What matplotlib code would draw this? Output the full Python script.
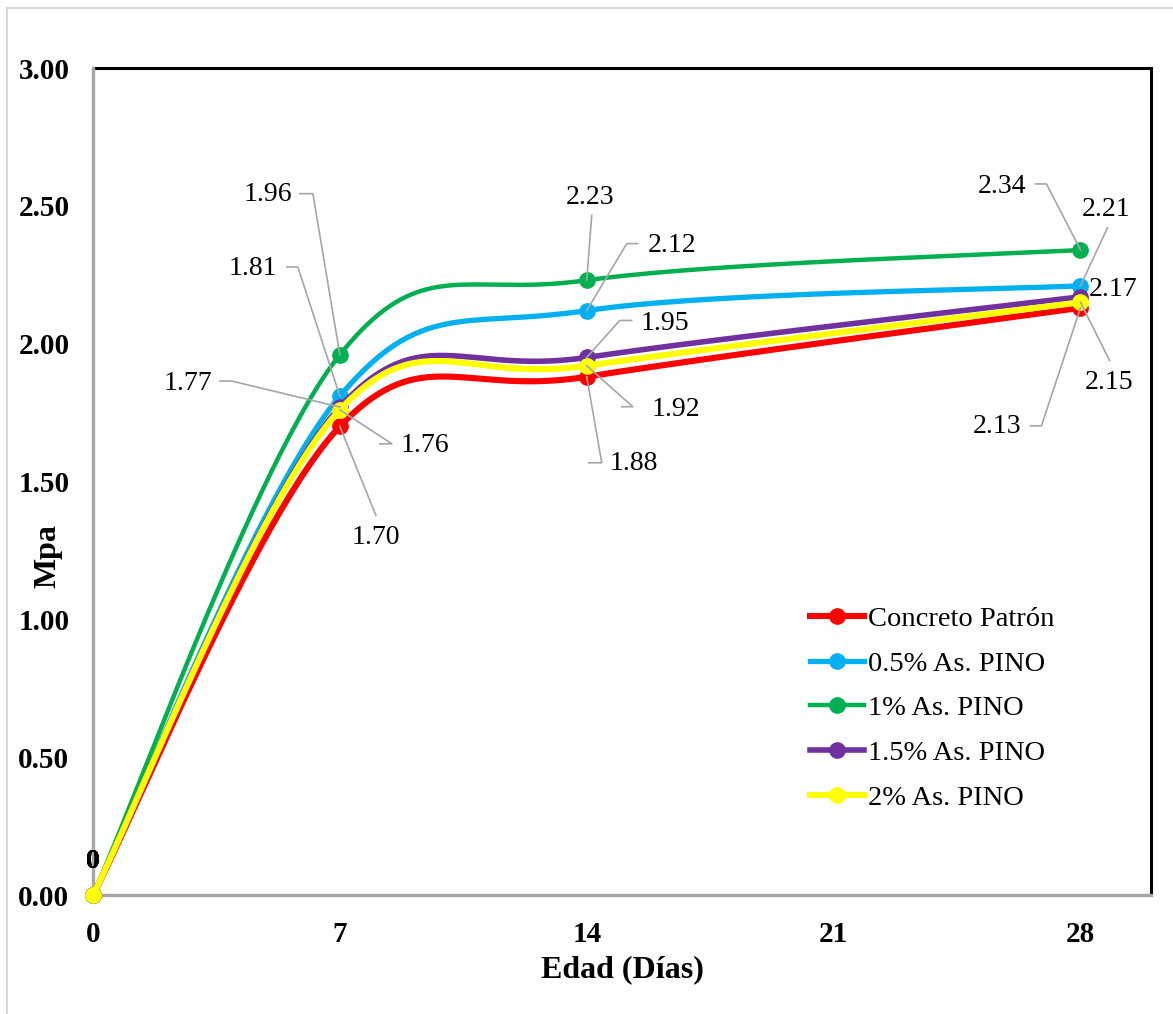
import numpy as np
import matplotlib
matplotlib.use("Agg")
import matplotlib.pyplot as plt
from matplotlib.lines import Line2D
from matplotlib.transforms import IdentityTransform

plt.rcParams['font.family'] = ['Liberation Serif', 'DejaVu Serif']

# edad de ensayo (dias) y resistencia (MPa)
edades = [0, 7, 14, 28]
series = ["Concreto Patrón", "0.5% As. PINO", "1% As. PINO", "1.5% As. PINO", "2% As. PINO"]
patron = [0, 1.70, 1.88, 2.13]
pino_05 = [0, 1.81, 2.12, 2.21]
pino_1 = [0, 1.96, 2.23, 2.34]
pino_15 = [0, 1.77, 1.95, 2.17]
pino_2 = [0, 1.76, 1.92, 2.15]
valores = [patron, pino_05, pino_1, pino_15, pino_2]

colores = ["#FF0000", "#00B0F0", "#00B050", "#7030A0", "#FFFF00"]
grosor = [4.4, 3.8, 3.2, 4.0, 4.4]

# posicion de etiquetas (px respecto al punto, y hacia abajo) y lineas guia
etiquetas = {
    (2, 1): ((-72, -160), [(-40, -161), (-27, -161)]),
    (1, 1): ((-87, -128), [(-53, -129), (-42, -129)]),
    (3, 1): ((-152, -24), [(-120, -26), (-108, -26)]),
    (4, 1): ((85, 36), [(40, 34), (52, 34)]),
    (0, 1): ((36, 111), [(36, 89)]),
    (2, 2): ((3, -83), [(5, -65)]),
    (1, 2): ((85, -65), [(51, -67), (40, -67)]),
    (3, 2): ((78, -34), [(45, -37), (33, -37)]),
    (4, 2): ((89, 44), [(35, 41), (46, 41)]),
    (0, 2): ((47, 87), [(2, 86), (15, 86)]),
    (2, 3): ((-78, -63), [(-45, -66), (-34, -66)]),
    (1, 3): ((26, -76), [(27, -58)]),
    (3, 3): ((33, -7), []),
    (4, 3): ((29, 80), [(29, 58)]),
    (0, 3): ((-83, 119), [(-50, 118), (-39, 118)]),
}


def suavizar(x, y, n=60):
    # curva suavizada tipo Excel (Bezier con puntos de control de Catmull-Rom)
    p = np.column_stack([x, y]).astype(float)
    ext = np.vstack([p[0], p, p[-1]])
    xs, ys = [], []
    t = np.linspace(0, 1, n)[:, None]
    for i in range(len(p) - 1):
        p0 = ext[i + 1]
        p3 = ext[i + 2]
        c1 = p0 + (ext[i + 2] - ext[i]) / 6
        c2 = p3 - (ext[i + 3] - ext[i + 1]) / 6
        b = (1 - t) ** 3 * p0 + 3 * (1 - t) ** 2 * t * c1 + 3 * (1 - t) * t ** 2 * c2 + t ** 3 * p3
        xs.extend(b[:, 0])
        ys.extend(b[:, 1])
    return np.array(xs), np.array(ys)


W, H = 1173, 1014
fig = plt.figure(figsize=(W / 100, H / 100), dpi=100)
ax = fig.add_axes([93 / W, (H - 895) / H, (1151 - 93) / W, (895 - 68) / H])
ax.set_xlim(0, 30)
ax.set_ylim(0, 3)

for k in range(len(series)):
    xs, ys = suavizar(edades, valores[k])
    ax.plot(xs, ys, color=colores[k], lw=grosor[k], zorder=5 + k, clip_on=False,
            solid_capstyle='round')
    ax.plot(edades, valores[k], 'o', color=colores[k], ms=11, zorder=5 + k, clip_on=False)

ax.set_xticks([0, 7, 14, 21, 28])
ax.set_yticks(np.arange(0, 3.01, 0.5))
ax.set_yticklabels(["%.2f" % v for v in np.arange(0, 3.01, 0.5)])
ax.tick_params(length=0, labelsize=21)
ax.tick_params(axis='y', pad=17)
ax.tick_params(axis='x', pad=19)
for lb in ax.get_xticklabels() + ax.get_yticklabels():
    lb.set_fontweight('bold')

for s in ['top', 'right']:
    ax.spines[s].set_color('black')
    ax.spines[s].set_linewidth(2.2)
for s in ['left', 'bottom']:
    ax.spines[s].set_color('#A6A6A6')
    ax.spines[s].set_linewidth(2.4)
    ax.spines[s].set_zorder(4)

# etiquetas de datos con lineas guia
ident = IdentityTransform()
for (k, i), (txt_off, guia) in etiquetas.items():
    px, py = ax.transData.transform((edades[i], valores[k][i]))
    tx, ty = txt_off
    fig.text(px + tx, py - ty, "%.2f" % valores[k][i], transform=ident,
             ha='center', va='center', fontsize=20, zorder=20)
    if guia:
        pts = [(px + gx, py - gy) for gx, gy in guia] + [(px, py)]
        fig.add_artist(Line2D([p[0] for p in pts], [p[1] for p in pts], transform=ident,
                              color='#A6A6A6', lw=1.2, zorder=15))

for k in range(len(series)):
    px, py = ax.transData.transform((edades[0], valores[k][0]))
    fig.text(px, py + 33, "%d" % valores[k][0], transform=ident, ha='center', va='center',
             fontsize=20, fontweight='bold', zorder=20)

handles = [Line2D([], [], color=colores[k], lw=grosor[k], marker='o', ms=11) for k in range(len(series))]
fig.legend(handles, series, loc='upper left', bbox_to_anchor=(810 / W, 1 - 606 / H),
           frameon=False, fontsize=20.5, handlelength=1.9, handletextpad=0.12,
           labelspacing=0.66, borderpad=0, borderaxespad=0)

fig.text(622 / W, 1 - 970 / H, "Edad (Días)", ha='center', va='center', fontsize=23, fontweight='bold')
fig.text(48 / W, 1 - 556 / H, "Mpa", ha='center', va='center', rotation=90, fontsize=23, fontweight='bold')

# borde del area del grafico
fig.add_artist(Line2D([7 / W, 7 / W], [0, 1 - 8 / H], transform=fig.transFigure, color='#D9D9D9', lw=1.5))
fig.add_artist(Line2D([7 / W, 1], [1 - 8 / H, 1 - 8 / H], transform=fig.transFigure, color='#D9D9D9', lw=1.5))

fig.savefig("out.png", dpi=100)
